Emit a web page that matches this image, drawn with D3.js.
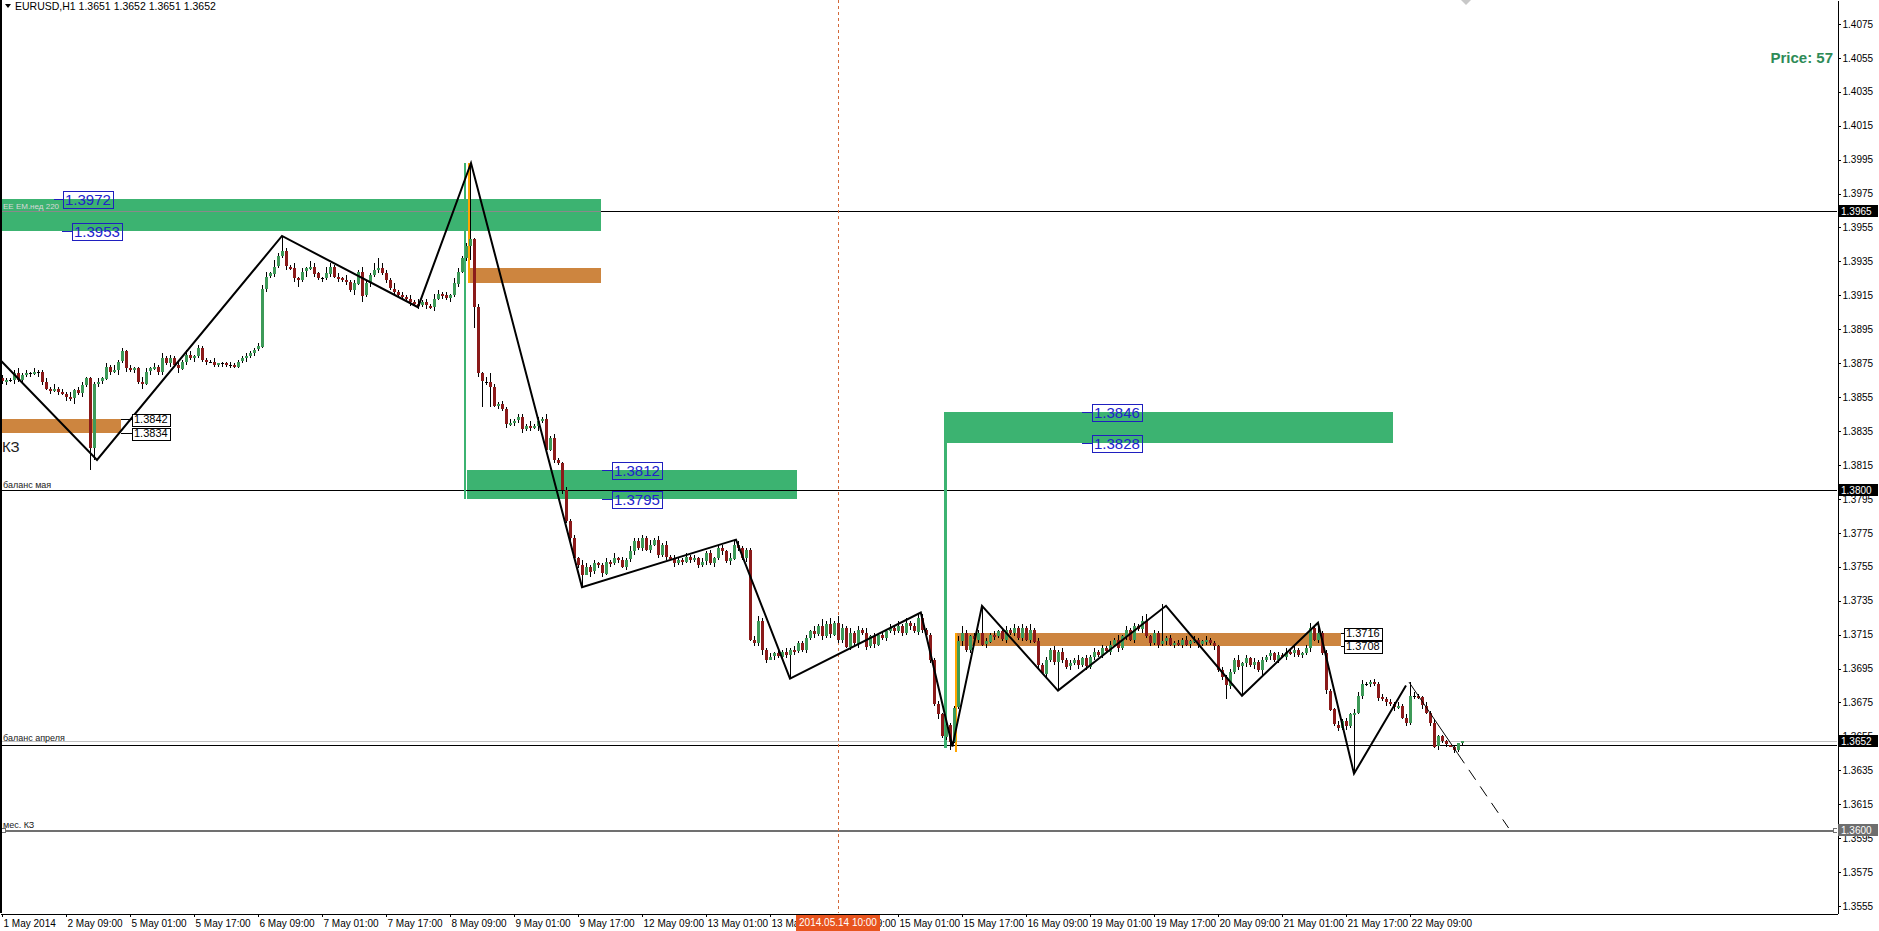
<!DOCTYPE html>
<html>
<head>
<meta charset="utf-8">
<script src="https://d3js.org/d3.v7.min.js"></script>
<style>
  html, body { margin: 0; padding: 0; background: #fff; overflow: hidden; }
  svg { display: block; font-family: "Liberation Sans", Arial, sans-serif; }
  .axis text { font-size: 10px; fill: #000; }
  .axis path, .axis line { stroke: #000; shape-rendering: crispEdges; }
  .crisp { shape-rendering: crispEdges; }
</style>
</head>
<body>
<div id="chart"></div>
<script>
// ---- data (prices in pips above 1.3000) ----
const title = "EURUSD,H1  1.3651 1.3652 1.3651 1.3652";
const firstOpen = 866;
const closes = [
  864,865,865,869,865,868,869,869,870,870,
  864,860,859,860,858,857,855,854,859,857,
  862,866,825,863,864,866,873,870,871,876,
  882,872,871,872,864,863,870,872,873,870,
  878,875,878,874,872,876,880,878,879,884,
  877,876,876,874,875,875,874,874,873,876,
  878,879,881,883,885,919,926,928,932,938,
  941,932,931,925,924,929,931,932,928,925,
  925,928,932,926,925,924,923,918,922,929,
  915,922,927,930,931,928,924,919,917,915,
  914,913,911,910,909,911,909,908,913,916,
  915,913,915,922,929,937,944,948,908,869,
  864,864,861,850,851,848,839,840,841,843,
  836,838,837,838,841,842,824,831,818,816,
  800,782,772,760,756,750,755,752,757,756,
  751,758,757,760,759,755,759,764,770,766,
  772,765,768,771,762,768,761,760,757,759,
  758,761,759,760,756,758,763,757,760,766,
  764,758,760,768,766,760,765,712,710,723,
  706,700,702,704,702,705,703,706,705,710,
  706,713,717,715,720,714,721,715,722,712,
  719,708,716,710,718,716,708,714,709,715,
  713,717,719,717,720,716,722,720,717,725,
  718,715,700,674,668,655,662,652,672,711,
  716,706,714,712,716,709,711,715,714,717,
  712,718,716,719,713,719,712,718,711,697,
  692,700,706,699,705,700,696,698,700,697,
  701,696,702,705,703,707,705,709,712,707,
  714,718,712,720,718,723,714,710,716,709,
  711,713,709,710,709,712,709,711,712,709,
  711,712,710,708,694,690,685,693,700,696,
  698,701,697,699,694,700,702,704,700,703,
  702,705,704,706,703,704,707,719,712,716,
  704,682,671,662,660,664,661,668,669,679,
  686,686,687,686,678,677,675,674,672,673,
  666,663,679,679,678,673,669,663,649,655,
  652,650,649,647,651,652
];
// upper / lower wick length per bar, in pips
const wickUp = [
  "2112312121","1213121312","2111212131","2121132121","3121213212","1112011211",
  "1211223142","2213121321","1421213121","3214632131","2121312132","1213212012",
  "1312121212","2131213121","1212132121","1213121322","2131212121","1212121212",
  "2131211123","2121212121","1213142414","2131213121","2121313123","2111211113",
  "4212212121","1212121312","1212121213","1212121213","1212134121","2121212121",
  "1211121213","1212121212","1212112312","1211212122","2112121212","1262112121","110100"
];
const wickDown = [
  "1212121213","2121212131","2100211213","1212131212","2121312121","1211121211",
  "1212112121","1212413121","2121212131","4121212121","2121212121","2121212102",
  "0231212121","2121312121","2121200312","2121212121","2121212121","2121212121",
  "2121212122","3202112121","1212121212","2121312121","1212121212","2121312011",
  "3121212121","1212121212","0212121212","1212121212","1212121212","1212121212",
  "1212120212","1212131212","1212121212","1211212101","2121212121","1212121212","110211"
];
// long wicks: [bar, high, low]
const longWicks = [
  [22, null, 812], [23, null, 818], [70, 950, null], [104, null, 907],
  [117, 993, 936], [118, null, 896], [120, null, 849], [122, 869, 849],
  [145, null, 743], [183, 771, null], [197, null, 689], [237, null, 647],
  [245, 732, null], [264, null, 682], [290, 733, null], [306, null, 677],
  [310, null, 679], [329, 722, null], [338, null, 633], [352, 687, null]
];

const timeLabels = ["1 May 2014","2 May 09:00","5 May 01:00","5 May 17:00","6 May 09:00",
  "7 May 01:00","7 May 17:00","8 May 09:00","9 May 01:00","9 May 17:00","12 May 09:00",
  "13 May 01:00","13 May 17:00","14 May 09:00","15 May 01:00","15 May 17:00","16 May 09:00",
  "19 May 01:00","19 May 17:00","20 May 09:00","21 May 01:00","21 May 17:00","22 May 09:00"];
const barsPerLabel = 16;
const priceTicks = d3.range(13555, 14076, 20).map(v => v / 10000);

// zigzag swing points [bar, price]
const zigzag = [[-0.5,1.3877],[23.75,1.3818],[70,1.3950],[104,1.3908],[117.25,1.3993],
  [145,1.3743],[183.5,1.3771],[197,1.3689],[229.7,1.3728],[237.6,1.3649],[245,1.3732],
  [264,1.3682],[291,1.3732],[310,1.3679],[329,1.3722],[338,1.3633],[351,1.3685]];
const projection = [[351.75,1.3687],[363.9,1.3645]];
const projectionDashed = [[363.9,1.3645],[376.65,1.3601]];

const zones = [
  {from:-0.5,   to:149.75, top:1.3972, bottom:1.3953, kind:"demand"},
  {from:116.75, to:149.75, top:1.3931, bottom:1.3922, kind:"supply"},
  {from:-0.5,   to:29.75,  top:1.3842, bottom:1.3834, kind:"supply"},
  {from:116.25, to:198.75, top:1.3812, bottom:1.3795, kind:"demand"},
  {from:236,    to:347.7,  top:1.3846, bottom:1.3828, kind:"demand"},
  {from:238.5,  to:334.75, top:1.3716, bottom:1.3708, kind:"supply"}
];
const stems = [
  {bar:115.75, from:1.3993, to:1.3795, kind:"demand"},
  {bar:116.75, from:1.3993, to:1.3922, kind:"supply"},
  {bar:235.75, from:1.3846, to:1.3648, kind:"demand"},
  {bar:238.5,  from:1.3716, to:1.3646, kind:"supply"}
];
const priceTags = [
  {price:1.3972, from:13, to:15.25, kind:"demand"},
  {price:1.3953, from:15, to:17.5, kind:"demand"},
  {price:1.3812, from:150, to:152.5, kind:"demand"},
  {price:1.3795, from:150, to:152.5, kind:"demand"},
  {price:1.3846, from:270, to:272.5, kind:"demand"},
  {price:1.3828, from:270, to:272.5, kind:"demand"},
  {price:1.3842, from:29.75, to:32.5, kind:"supply"},
  {price:1.3834, from:29.75, to:32.5, kind:"supply"},
  {price:1.3716, from:334.75, to:335.5, kind:"supply"},
  {price:1.3708, from:334.75, to:335.5, kind:"supply"}
];
const levelPrices = [1.3965, 1.3800, 1.3652, 1.3650, 1.3600];
const levelNames = ["", "баланс мая", "", "баланс апреля", "мес. КЗ"];
const axisMarks = [1.3965, 1.3800, 1.3652, 1.3600];
const cursorBar = 209, cursorLabel = "2014.05.14 10:00";
const infoText = "Price: 57";

// ---- layout ----
const W = 1879, H = 931, plotRight = 1837, plotBottom = 913;
const svg = d3.select("#chart").append("svg").attr("width", W).attr("height", H);
const x = d3.scaleLinear().domain([-0.5, 458.75]).range([0, plotRight]);
const y = d3.scaleLinear().domain([1.35509, 1.40891]).range([plotBottom, 0]);
const px = p => 1.3 + p / 10000;

svg.append("defs").append("clipPath").attr("id", "plot")
  .append("rect").attr("width", plotRight).attr("height", plotBottom);
const plot = svg.append("g").attr("clip-path", "url(#plot)");

const green = "#3cb371", orange = "#cd853f";

// black line under the first zone
plot.append("line").attr("class", "crisp")
  .attr("x1", 0).attr("x2", plotRight)
  .attr("y1", Math.round(y(levelPrices[0])) + 0.5).attr("y2", Math.round(y(levelPrices[0])) + 0.5)
  .attr("stroke", "#000");

// zones
plot.selectAll(".zone").data(zones).enter().append("rect")
  .attr("class", "zone crisp")
  .attr("x", d => x(d.from)).attr("width", d => x(d.to) - x(d.from))
  .attr("y", d => y(d.top)).attr("height", d => y(d.bottom) - y(d.top))
  .attr("fill", d => d.kind == "demand" ? green : orange);

// gray line across first zone
plot.append("line").attr("class", "crisp")
  .attr("x1", x(zones[0].from)).attr("x2", x(zones[0].to))
  .attr("y1", Math.round(y(levelPrices[0])) + 0.5).attr("y2", Math.round(y(levelPrices[0])) + 0.5)
  .attr("stroke", "#8a8a8a");

plot.append("text").attr("x", 3).attr("y", 209)
  .style("font-size", "8px").attr("fill", "#d8d8d8").text("ЕЕ ЕМ.нед 220");

// other horizontal levels
levelPrices.slice(1).forEach((p, k) => {
  const i = k + 1;
  const yy = Math.round(y(p)) + 0.5;
  const col = i == 2 ? "#c0c0c0" : (i == 4 ? "#707070" : "#000");
  plot.append("line").attr("class", "crisp")
    .attr("x1", 0).attr("x2", plotRight).attr("y1", yy).attr("y2", yy)
    .attr("stroke", col).attr("stroke-width", i == 4 ? 2 : 1);
  if (levelNames[i]) {
    plot.append("text").attr("x", 3).attr("y", yy - (i == 3 ? 5 : 3))
      .style("font-size", "9px").attr("fill", "#222").text(levelNames[i]);
  }
});
// handles on the monthly line
[1.5, plotRight - 4].forEach(hx => {
  plot.append("rect").attr("class", "crisp")
    .attr("x", hx).attr("y", Math.round(y(levelPrices[4])) - 2).attr("width", 4).attr("height", 4)
    .attr("fill", "#fff").attr("stroke", "#707070");
});

// cursor line
plot.append("line").attr("class", "crisp")
  .attr("x1", Math.round(x(cursorBar)) + 0.5).attr("x2", Math.round(x(cursorBar)) + 0.5)
  .attr("y1", 0).attr("y2", plotBottom)
  .attr("stroke", "#d2693a").attr("stroke-dasharray", "3,3");

// stems
plot.selectAll(".stem").data(stems).enter().append("line")
  .attr("class", "crisp")
  .attr("x1", d => x(d.bar)).attr("x2", d => x(d.bar))
  .attr("y1", d => y(d.from)).attr("y2", d => y(d.to))
  .attr("stroke", d => d.kind == "demand" ? green : "#ffa500")
  .attr("stroke-width", d => d.bar > 200 && d.kind == "demand" ? 3 : 2);

// candles
const upDigits = wickUp.join(""), downDigits = wickDown.join("");
const candles = closes.map((c, i) => {
  const o = i ? closes[i - 1] : firstOpen;
  let h = Math.max(o, c) + (+upDigits[i]);
  let l = Math.min(o, c) - (+downDigits[i]);
  return {i, o: px(o), c: px(c), h: px(h), l: px(l)};
});
longWicks.forEach(([b, h, l]) => {
  if (h != null) candles[b].h = px(h);
  if (l != null) candles[b].l = px(l);
});
const cg = plot.append("g");
cg.selectAll(".wick").data(candles).enter().append("line")
  .attr("class", "crisp")
  .attr("x1", d => Math.round(x(d.i)) + 0.5).attr("x2", d => Math.round(x(d.i)) + 0.5)
  .attr("y1", d => y(d.h)).attr("y2", d => y(d.l))
  .attr("stroke", "#000");
cg.selectAll(".body").data(candles).enter().append("rect")
  .attr("class", "crisp")
  .attr("x", d => Math.round(x(d.i)) - 1).attr("width", 3)
  .attr("y", d => Math.round(y(Math.max(d.o, d.c))))
  .attr("height", d => Math.max(1, Math.round(y(Math.min(d.o, d.c)) - y(Math.max(d.o, d.c)))))
  .attr("fill", d => d.c > d.o ? "#3d9a58" : (d.c < d.o ? "#8b1a1a" : "#000"));

// zigzag
const line = d3.line().x(d => x(d[0])).y(d => y(d[1]));
plot.append("path").datum(zigzag).attr("d", line)
  .attr("fill", "none").attr("stroke", "#000").attr("stroke-width", 2);
plot.append("path").datum(projection).attr("d", line)
  .attr("fill", "none").attr("stroke", "#000").attr("stroke-width", 1);
plot.append("path").datum(projectionDashed).attr("d", line)
  .attr("fill", "none").attr("stroke", "#000").attr("stroke-width", 1).attr("stroke-dasharray", "12,8");

// zone price tags
priceTags.forEach(t => {
  const big = t.kind == "demand";
  const col = big ? "#1f1fbf" : "#000";
  const yy = Math.round(y(t.price)) + 0.5;
  const x0 = x(t.from), x1 = x(t.to);
  plot.append("line").attr("class", "crisp").attr("x1", x0).attr("x2", x1)
    .attr("y1", yy).attr("y2", yy).attr("stroke", col);
  const hgt = big ? 17 : 12;
  const txt = plot.append("text").attr("x", x1 + 2).attr("y", yy)
    .attr("dy", "0.36em").style("font-size", big ? "15px" : "11px")
    .attr("fill", big ? "#2222cc" : "#000").text(t.price.toFixed(4));
  const w = txt.node().getComputedTextLength() + 4;
  plot.insert("rect", () => txt.node()).attr("class", "crisp")
    .attr("x", Math.round(x1) + 0.5).attr("y", Math.round(yy - hgt / 2) + 0.5)
    .attr("width", Math.round(w)).attr("height", hgt)
    .attr("fill", big ? "none" : "#fff").attr("stroke", col);
});

// КЗ label
plot.append("text").attr("x", 2).attr("y", 452).style("font-size", "15px")
  .attr("fill", "#222").text("КЗ");

// info text
plot.append("text").attr("x", 1833).attr("y", 63).attr("text-anchor", "end")
  .style("font-size", "15px").style("font-weight", "bold").attr("fill", "#2e8b57")
  .text(infoText);

// small marker at top
plot.append("path").attr("d", "M1461,0 L1466,5 L1471,0 Z").attr("fill", "#c8c8c8");

// title
svg.append("path").attr("d", "M5,4 L11,4 L8,8 Z").attr("fill", "#000");
svg.append("text").attr("x", 15).attr("y", 10).style("font-size", "10.5px").text(title);

// left border
svg.append("line").attr("class", "crisp").attr("x1", 0.5).attr("x2", 0.5)
  .attr("y1", 0).attr("y2", plotBottom).attr("stroke", "#000").attr("stroke-width", 2);

// axes
const yAxis = d3.axisRight(y).tickValues(priceTicks).tickFormat(d3.format(".4f"))
  .tickSize(3).tickPadding(2).tickSizeOuter(0);
svg.append("g").attr("class", "axis").attr("transform", `translate(${plotRight + 0.5},0)`).call(yAxis);

const xAxis = d3.axisBottom(x).tickValues(timeLabels.map((d, i) => i * barsPerLabel))
  .tickFormat((d, i) => timeLabels[i]).tickSize(3).tickPadding(3).tickSizeOuter(0);
const gx = svg.append("g").attr("class", "axis").attr("transform", `translate(0,${plotBottom + 0.5})`).call(xAxis);
gx.selectAll("text").attr("text-anchor", "start").attr("x", 1);

// right-axis markers
axisMarks.forEach(p => {
  const yy = Math.round(y(p));
  const gray = p == 1.36;
  svg.append("rect").attr("class", "crisp").attr("x", plotRight + 1).attr("y", yy - 6)
    .attr("width", 40).attr("height", 12).attr("fill", gray ? "#6e6e6e" : "#000");
  svg.append("text").attr("x", plotRight + 4).attr("y", yy).attr("dy", "0.36em")
    .style("font-size", "10px").attr("fill", "#fff").text(p.toFixed(4));
});

// cursor label on time axis
const cx = x(cursorBar);
const ct = svg.append("text").attr("x", cx).attr("y", plotBottom + 13).attr("text-anchor", "middle")
  .style("font-size", "10px").attr("fill", "#fff").text(cursorLabel);
const cw = ct.node().getComputedTextLength() + 6;
svg.insert("rect", () => ct.node()).attr("class", "crisp")
  .attr("x", Math.round(cx - cw / 2)).attr("y", plotBottom + 2).attr("width", Math.round(cw)).attr("height", 16)
  .attr("fill", "#e8541e");
</script>
</body>
</html>
